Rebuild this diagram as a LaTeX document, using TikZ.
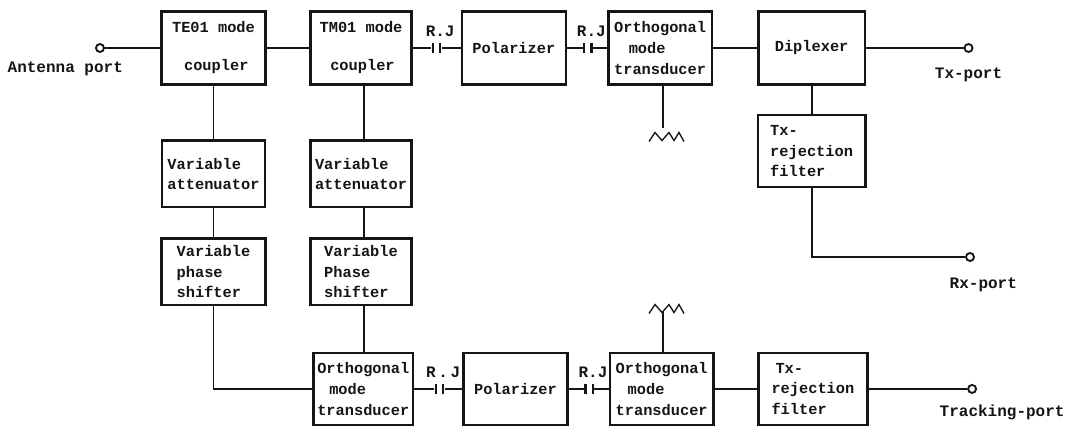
\documentclass[tikz,border=0pt]{standalone}
\usepackage{fontspec}
\setmonofont{Liberation Mono}
\usepackage{xcolor}
\usetikzlibrary{positioning}
\definecolor{ink}{HTML}{151515}
\tikzset{
  blk/.style={draw=ink, line width=1.9pt, align=left, text=ink, font=\ttfamily\bfseries\fontsize{11.5}{15.5}\selectfont, inner sep=0pt, minimum height=#1},
  blk/.default=54pt,
  lbl/.style={text=ink, font=\ttfamily\bfseries\fontsize{12}{14}\selectfont, inner sep=0pt},
  port/.style={circle, draw=ink, line width=1.4pt, fill=white, inner sep=0pt, minimum size=6pt},
  rjbar/.style={fill=ink, inner sep=0pt, minimum width=1.7pt, minimum height=7.5pt},
  wire/.style={draw=ink, line width=1.4pt},
  load/.pic={\draw[wire, line width=1pt] (-14,4.5) -- (-8,-4.5) -- (-1,3.5) -- (6,-4.5) -- (11,3.5) -- (16,-4.5) -- (21,4.5);},
}
\begin{document}
\begin{tikzpicture}[x=0.75pt, y=-0.75pt]
  \useasboundingbox (0,0) rectangle (1071,425);
  % upper row
  \node[blk=55pt, minimum width=78pt] (te) at (213.5,48) {TE01 mode\\[13pt]\hspace*{9pt}coupler};
  \node[blk=55pt, minimum width=75.5pt, right=32pt of te] (tm) {TM01 mode\\[13pt]\hspace*{8pt}coupler};
  \node[rjbar, right=14pt of tm] (ja) {};
  \node[rjbar, right=3.5pt of ja] (jb) {};
  \node[lbl, above=4pt of jb] (rja) {R.J};
  \node[blk=55pt, minimum width=78pt, right=36pt of tm] (pola) {Polarizer};
  \node[rjbar, right=11.5pt of pola] (jc) {};
  \node[rjbar, right=3.5pt of jc] (jd) {};
  \node[lbl, above=4pt of jd] (rjb) {R.J};
  \node[blk=55pt, minimum width=77.5pt, right=30pt of pola] (omta) {Orthogonal\\\hspace*{11pt}mode\\transducer};
  \node[blk=55pt, minimum width=80pt, right=33pt of omta] (dip) {Diplexer};
  \node[blk, minimum width=80.5pt, below=21pt of dip] (txa) {Tx-\\rejection\\filter};
  % branch columns
  \node[blk=50pt, minimum width=77pt, below=40pt of te] (vaa) {Variable\\attenuator};
  \node[blk=50pt, minimum width=75.5pt, below=40pt of tm] (vab) {Variable\\attenuator};
  \node[blk=50pt, minimum width=78pt, below=21.5pt of vaa] (vpa) {Variable\\phase\\shifter};
  \node[blk=50pt, minimum width=76pt, below=21.5pt of vab] (vpb) {Variable\\Phase\\shifter};
  % lower row
  \node[blk, minimum width=74.5pt, below=34pt of vpb, xshift=1.7pt] (omtb) {Orthogonal\\\hspace*{9pt}mode\\transducer};
  \node[rjbar, right=15pt of omtb] (je) {};
  \node[rjbar, right=3.5pt of je] (jf) {};
  \node[lbl, above=4pt of jf] (rjc) {R\hspace{2pt}.\hspace{2pt}J};
  \node[blk, minimum width=78pt, right=36pt of omtb] (polb) {Polarizer};
  \node[rjbar, right=11.5pt of polb] (jg) {};
  \node[rjbar, right=3.5pt of jg] (jh) {};
  \node[lbl, above=4pt of jh] (rjd) {R.J};
  \node[blk, minimum width=77.5pt, right=30pt of polb] (omtc) {Orthogonal\\\hspace*{9pt}mode\\transducer};
  \node[blk, minimum width=81.5pt, right=32pt of omtc] (txb) {\hspace*{3pt}Tx-\\rejection\\filter};
  % ports
  \node[port, left=41.5pt of te] (antp) {};
  \node[port, right=73pt of dip] (txp) {};
  \node[port] (rxp) at (970,257) {};
  \node[port, right=74pt of txb] (trkp) {};
  \node[lbl, below=6.5pt of antp, xshift=-26pt] (antl) {Antenna port};
  \node[lbl, below=11pt of txp] (txl) {Tx-port};
  \node[lbl, below=11.5pt of rxp, xshift=10pt] (rxl) {Rx-port};
  \node[lbl, below=8pt of trkp, xshift=22.5pt] (trkl) {Tracking-port};
  % terminations
  \coordinate (loada) at (663,128);
  \coordinate (loadb) at (663,312);
  \pic at (663,137) {load};
  \pic at (663,309) {load};
  % connectors
  \draw[wire] (antp) -- (te);
  \draw[wire] (te) -- (tm);
  \draw[wire] (tm) -- (ja);
  \draw[wire] (jb) -- (pola);
  \draw[wire] (pola) -- (jc);
  \draw[wire] (jd) -- (omta);
  \draw[wire] (omta) -- (dip);
  \draw[wire] (dip) -- (txp);
  \draw[wire] (dip) -- (txa);
  \draw[wire] (txa.south) |- (rxp);
  \draw[wire] (te) -- (vaa);
  \draw[wire] (vaa) -- (vpa);
  \draw[wire] (vpa.south) |- (omtb);
  \draw[wire] ([xshift=2pt]tm.south) -- ([xshift=2pt]vab.north);
  \draw[wire] ([xshift=2pt]vab.south) -- ([xshift=2pt]vpb.north);
  \draw[wire] ([xshift=2pt]vpb.south) -- ([xshift=2pt]vpb.south |- omtb.north);
  \draw[wire] (omtb) -- (je);
  \draw[wire] (jf) -- (polb);
  \draw[wire] (polb) -- (jg);
  \draw[wire] (jh) -- (omtc);
  \draw[wire] (omtc) -- (txb);
  \draw[wire] (txb) -- (trkp);
  \draw[wire] (loada |- omta.south) -- (loada);
  \draw[wire] (loadb |- omtc.north) -- (loadb);
\end{tikzpicture}
\end{document}
